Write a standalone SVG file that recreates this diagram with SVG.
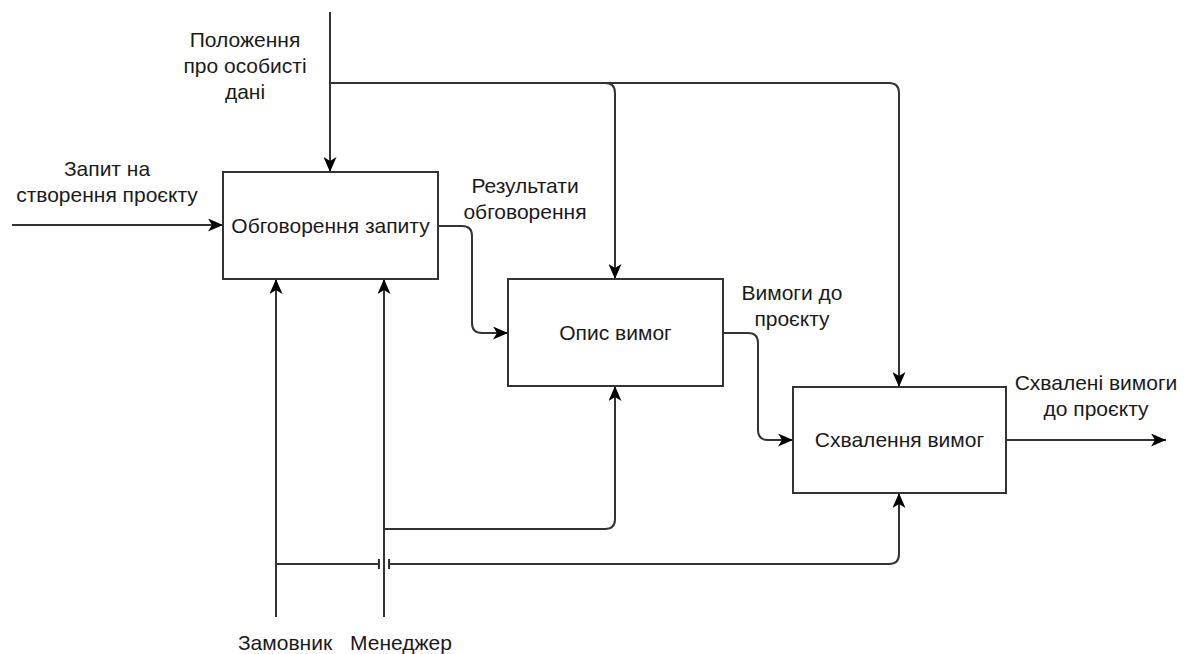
<svg xmlns="http://www.w3.org/2000/svg" width="1187" height="654" viewBox="0 0 1187 654">
  <style>
    .box { fill: #ffffff; stroke: #333333; stroke-width: 2; }
    .wire { fill: none; stroke: #333333; stroke-width: 2; }
    .lbl { font-family: "Liberation Sans", Arial, sans-serif; font-size: 21px; fill: #1a1a1a; text-anchor: middle; }
  </style>
  <defs>
    <marker id="arrow" markerUnits="userSpaceOnUse" viewBox="0 0 15 13" markerWidth="15" markerHeight="13" refX="15" refY="6.5" orient="auto">
      <path d="M15,6.5 L0,0 L4,6.5 L0,13 Z" fill="#000000"/>
    </marker>
  </defs>
  <rect width="1187" height="654" fill="#ffffff"/>

  <!-- connectors -->
  <g id="connectors">
    <!-- control: personal data regulation -->
    <path class="wire" d="M330,12 V172" marker-end="url(#arrow)"/>
    <path class="wire" d="M330,83 H605 Q615,83 615,93 V279" marker-end="url(#arrow)"/>
    <path class="wire" d="M605,83 H889 Q899,83 899,93 V387" marker-end="url(#arrow)"/>
    <!-- input -->
    <path class="wire" d="M12,225 H223" marker-end="url(#arrow)"/>
    <!-- box 1 to box 2 -->
    <path class="wire" d="M438,226 H462 Q472,226 472,236 V323 Q472,333 482,333 H508" marker-end="url(#arrow)"/>
    <!-- box 2 to box 3 -->
    <path class="wire" d="M723,333 H748 Q758,333 758,343 V430 Q758,440 768,440 H793" marker-end="url(#arrow)"/>
    <!-- output -->
    <path class="wire" d="M1006,440 H1166" marker-end="url(#arrow)"/>
    <!-- mechanisms -->
    <path class="wire" d="M276,617 V279" marker-end="url(#arrow)"/>
    <path class="wire" d="M384,617 V279" marker-end="url(#arrow)"/>
    <path class="wire" d="M384,529 H605 Q615,529 615,519 V386" marker-end="url(#arrow)"/>
    <path class="wire" d="M276,564 H379 M389,564 H889 Q899,564 899,554 V493" marker-end="url(#arrow)"/>
    <!-- line jump ticks -->
    <path class="wire" d="M379,559 V569 M389,559 V569"/>
  </g>

  <g id="node-discuss">
    <rect class="box" x="223" y="172" width="215" height="107"/>
    <text class="lbl" x="330.5" y="233">Обговорення запиту</text>
  </g>
  <g id="node-describe">
    <rect class="box" x="508" y="279" width="215" height="107"/>
    <text class="lbl" x="615.5" y="339.5">Опис вимог</text>
  </g>
  <g id="node-approve">
    <rect class="box" x="793" y="387" width="213" height="106"/>
    <text class="lbl" x="899.5" y="446.5">Схвалення вимог</text>
  </g>

  <g id="labels">
    <text class="lbl" x="245" y="47">Положення</text>
    <text class="lbl" x="245" y="73">про особисті</text>
    <text class="lbl" x="245" y="99">дані</text>
    <text class="lbl" x="107" y="176">Запит на</text>
    <text class="lbl" x="107" y="202">створення проєкту</text>
    <text class="lbl" x="525" y="193">Результати</text>
    <text class="lbl" x="525" y="219">обговорення</text>
    <text class="lbl" x="792" y="300">Вимоги до</text>
    <text class="lbl" x="792" y="326">проєкту</text>
    <text class="lbl" x="1096" y="390">Схвалені вимоги</text>
    <text class="lbl" x="1096" y="416">до проєкту</text>
    <text class="lbl" x="285" y="650">Замовник</text>
    <text class="lbl" x="401" y="650">Менеджер</text>
  </g>
</svg>
